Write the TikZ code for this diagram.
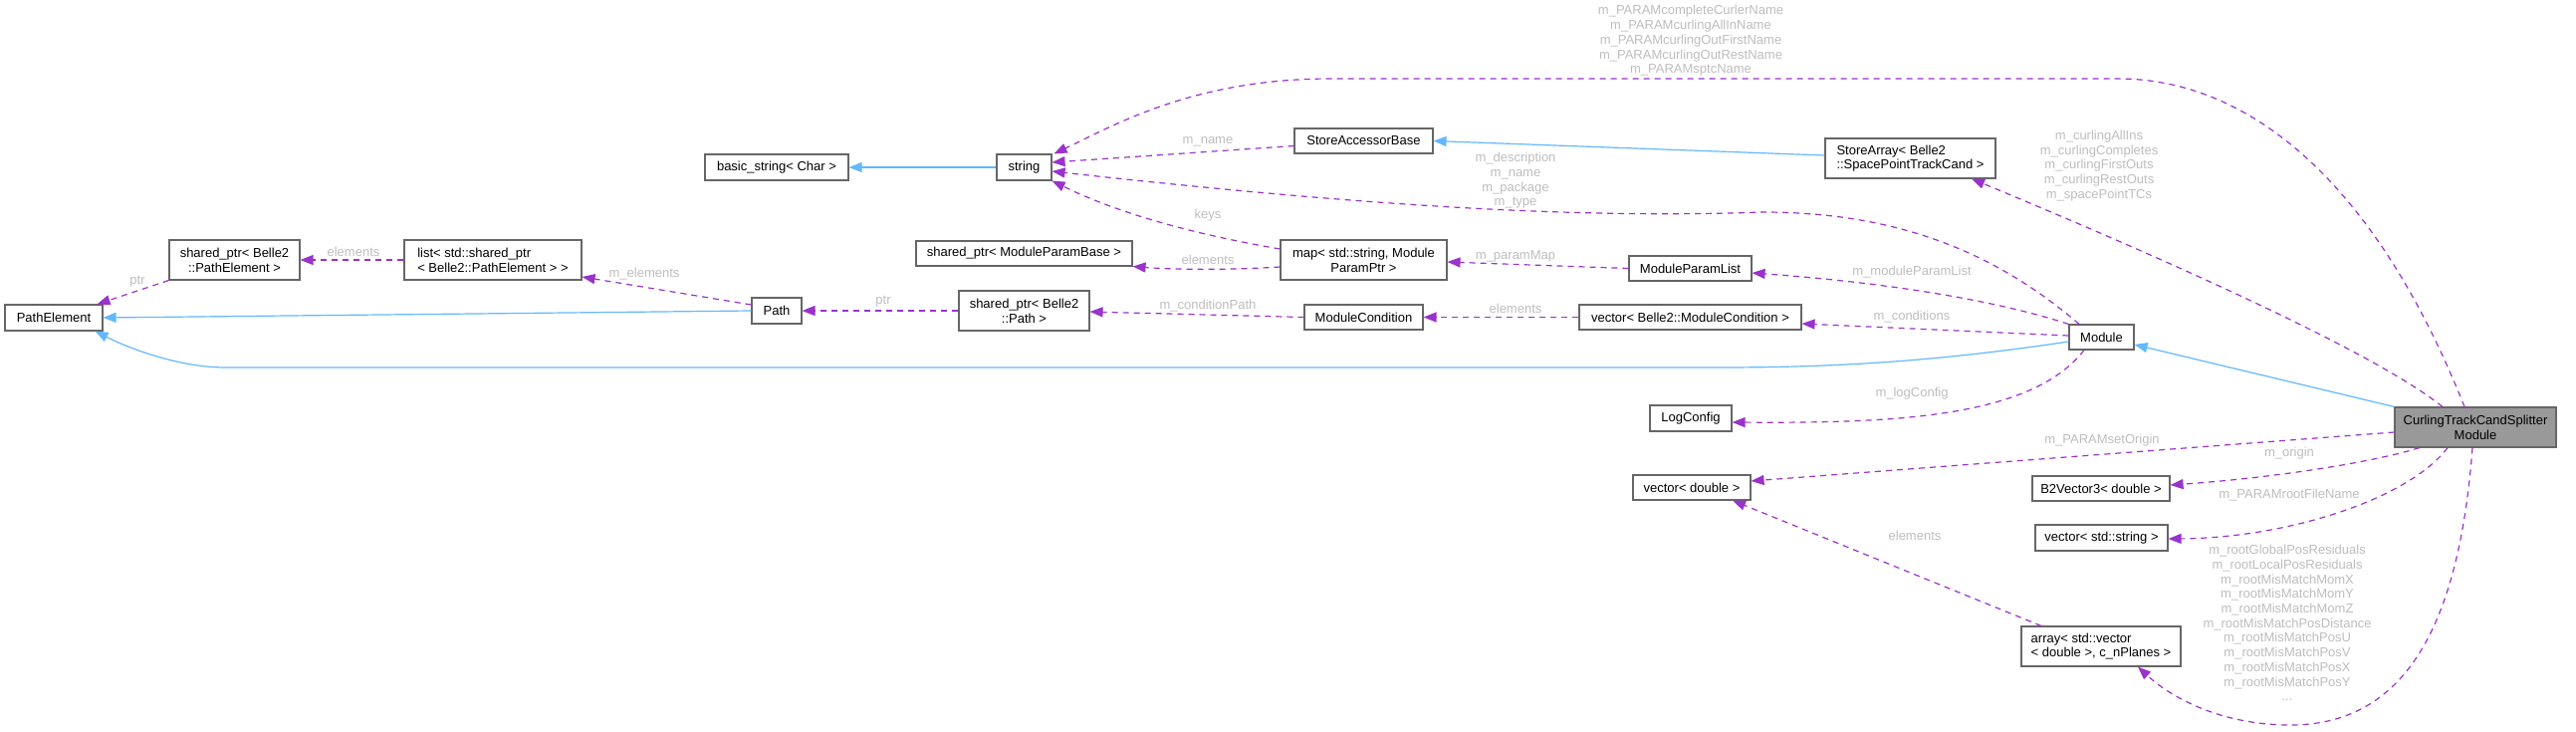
\documentclass[tikz,border=0pt]{standalone}
\usepackage{fontspec}
\setmainfont{Liberation Sans}
\usetikzlibrary{arrows.meta}
\definecolor{edgeP}{HTML}{9A32CD}
\definecolor{edgeB}{HTML}{63B8FF}
\definecolor{boxc}{HTML}{666666}
\definecolor{lblc}{HTML}{BEBEBE}
\definecolor{mainfill}{HTML}{999999}
\newcommand\dfont{\fontsize{13}{14.7}\selectfont}
\begin{document}
\begin{tikzpicture}[x=1pt,y=-1pt,
  box/.style={draw=boxc, fill=white, line width=1.1pt, inner sep=0pt, font=\dfont, text=black, align=center},
  wh/.style 2 args={minimum width=#1pt, minimum height=#2pt},
  lbl/.style={font=\dfont, text=lblc, inner sep=0pt, align=center},
  uedge/.style={draw=edgeP, line width=1.2pt, dash pattern=on 6pt off 5pt, -{Triangle[length=13pt,width=10pt]}},
  iedge/.style={draw=edgeB, line width=1.2pt, -{Triangle[length=13pt,width=10pt]}}]
\fill[white] (0,0) rectangle (2587,734);
\useasboundingbox (0,0) rectangle (2587,734);

% nodes
\node[box, wh={98}{26}] (pe) at (54,319) {PathElement};
\node[box, wh={131}{40}] (sppe) at (235.5,261) {shared\_ptr< Belle2\\::PathElement >};
\node[box, wh={178}{40}, align=left] (lst) at (495,261) {list< std::shared\_ptr\\< Belle2::PathElement > >};
\node[box, wh={144}{26}] (bs) at (780,168) {basic\_string< Char >};
\node[box, wh={55}{26}] (str) at (1028.5,168) {string};
\node[box, wh={217}{25}] (spmpb) at (1028.5,254.5) {shared\_ptr< ModuleParamBase >};
\node[box, wh={50}{26}] (path) at (780,312) {Path};
\node[box, wh={131}{40}] (sppath) at (1028.5,312) {shared\_ptr< Belle2\\::Path >};
\node[box, wh={139}{25}] (sab) at (1369.5,141.5) {StoreAccessorBase};
\node[box, wh={167}{40}] (map) at (1369.5,261) {map< std::string, Module\\ParamPtr >};
\node[box, wh={119}{25}] (mc) at (1369.5,318.5) {ModuleCondition};
\node[box, wh={123}{25}] (mpl) at (1697.5,269.5) {ModuleParamList};
\node[box, wh={223}{25}] (vmc) at (1697.5,318.5) {vector< Belle2::ModuleCondition >};
\node[box, wh={82}{26}] (log) at (1698,420) {LogConfig};
\node[box, wh={118}{25}] (vd) at (1699,489.5) {vector< double >};
\node[box, wh={171}{40}, align=left] (sa) at (1918.5,159) {StoreArray< Belle2\\::SpacePointTrackCand >};
\node[box, wh={65}{25}] (mod) at (2110.5,338.5) {Module};
\node[box, wh={138}{25}] (b2) at (2110,490.5) {B2Vector3< double >};
\node[box, wh={133}{26}] (vs) at (2110.5,540) {vector< std::string >};
\node[box, wh={160}{40}, align=left] (arr) at (2110,649) {array< std::vector\\< double >, c\_nPlanes >};
\node[box, wh={162}{40}, fill=mainfill] (cur) at (2486,429) {CurlingTrackCandSplitter\\Module};

% inheritance edges
\draw[iedge] (str.west) -- (bs.east);
\draw[iedge] ([yshift=3pt]sa.west) -- (sab.east);
\draw[iedge] (path.west) -- (pe.east);
\draw[iedge] ([yshift=-4.5pt]mod.west) .. controls (1950,362) and (1850,369) .. (1725,369) -- (227,369) .. controls (180,369) and (130,350) .. ([xshift=-8pt]pe.south east);
\draw[iedge] (cur.north west) -- ([yshift=-7.5pt]mod.east);

% usage edges
\draw[uedge] (sppe.south west) -- ([xshift=-6pt]pe.north east);
\draw[uedge] (lst.west) -- (sppe.east);
\draw[uedge] ([yshift=6pt]path.west) -- ([yshift=-17pt]lst.east);
\draw[uedge] (sppath.west) -- (path.east);
\draw[uedge] (mc.west) -- ([yshift=-1pt]sppath.east);
\draw[uedge] (vmc.west) -- (mc.east);
\draw[uedge] ([yshift=-7pt]map.west) .. controls (1220,272) and (1170,270) .. (spmpb.south east);
\draw[uedge] ([yshift=11pt]map.west) .. controls (1180,232) and (1110,208) .. (str.south east);
\draw[uedge] ([yshift=-5pt]sab.west) -- ([yshift=5pt]str.east);
\draw[uedge] (mpl.west) -- ([yshift=-2pt]map.east);
\draw[uedge] (mod.north west) .. controls (1990,297) and (1870,282) .. ([yshift=-4.5pt]mpl.east);
\draw[uedge] ([yshift=1.5pt]mod.west) -- ([yshift=-6.5pt]vmc.east);
\draw[uedge] ([xshift=-17.5pt]mod.south) .. controls (2040,420) and (1900,425) .. ([yshift=-4pt]log.east);
\draw[uedge] ([xshift=-22.5pt]mod.north) .. controls (2000,250) and (1900,213) .. (1770,213) .. controls (1600,219) and (1400,210) .. ([yshift=-4pt]str.east);
\draw[uedge] ([xshift=-11pt]cur.north) .. controls (2380,170) and (2250,79) .. (2127,79) -- (1337,79) .. controls (1200,79) and (1120,125) .. ([xshift=2pt]str.north east);
\draw[uedge] ([xshift=-33pt]cur.north) .. controls (2380,350) and (2150,250) .. ([xshift=61.5pt]sa.south);
\draw[uedge] ([yshift=-5pt]cur.west) -- ([yshift=6.5pt]vd.east);
\draw[uedge] ([xshift=-56pt]cur.south) .. controls (2380,465) and (2280,480) .. ([yshift=3.5pt]b2.east);
\draw[uedge] ([xshift=-28pt]cur.south) .. controls (2420,500) and (2300,540) .. ([yshift=-1pt]vs.east);
\draw[uedge] ([xshift=-3pt]cur.south) .. controls (2470,620) and (2420,728) .. (2300,728) .. controls (2230,728) and (2180,700) .. ([xshift=37pt]arr.south);
\draw[uedge] ([xshift=-60pt]arr.north) -- ([xshift=41pt]vd.south);

% labels
\node[lbl] (l1) at (138,283) {ptr};
\node[lbl] (l2) at (355,253) {elements};
\node[lbl] (l3) at (647,275) {m\_elements};
\node[lbl] (l4) at (887,303) {ptr};
\node[lbl] (l5) at (1213,307) {m\_conditionPath};
\node[lbl] (l6) at (1522,310) {elements};
\node[lbl] (l7) at (1213,261) {elements};
\node[lbl] (l8) at (1213,216) {keys};
\node[lbl] (l9) at (1213,142) {m\_name};
\node[lbl] (l10) at (1522,257) {m\_paramMap};
\node[lbl] (l11) at (1920,273) {m\_moduleParamList};
\node[lbl] (l12) at (1920,318) {m\_conditions};
\node[lbl] (l13) at (1920,395) {m\_logConfig};
\node[lbl] (l14) at (1522,181.5) {m\_description\\m\_name\\m\_package\\m\_type};
\node[lbl] (l15) at (1698,41) {m\_PARAMcompleteCurlerName\\m\_PARAMcurlingAllInName\\m\_PARAMcurlingOutFirstName\\m\_PARAMcurlingOutRestName\\m\_PARAMsptcName};
\node[lbl] (l16) at (2108,166.5) {m\_curlingAllIns\\m\_curlingCompletes\\m\_curlingFirstOuts\\m\_curlingRestOuts\\m\_spacePointTCs};
\node[lbl] (l17) at (2111,442) {m\_PARAMsetOrigin};
\node[lbl] (l18) at (2299,455) {m\_origin};
\node[lbl] (l19) at (2299,497) {m\_PARAMrootFileName};
\node[lbl] (l20) at (2297,625.5) {m\_rootGlobalPosResiduals\\m\_rootLocalPosResiduals\\m\_rootMisMatchMomX\\m\_rootMisMatchMomY\\m\_rootMisMatchMomZ\\m\_rootMisMatchPosDistance\\m\_rootMisMatchPosU\\m\_rootMisMatchPosV\\m\_rootMisMatchPosX\\m\_rootMisMatchPosY\\...};
\node[lbl] (l21) at (1923,538) {elements};
\end{tikzpicture}
\end{document}
